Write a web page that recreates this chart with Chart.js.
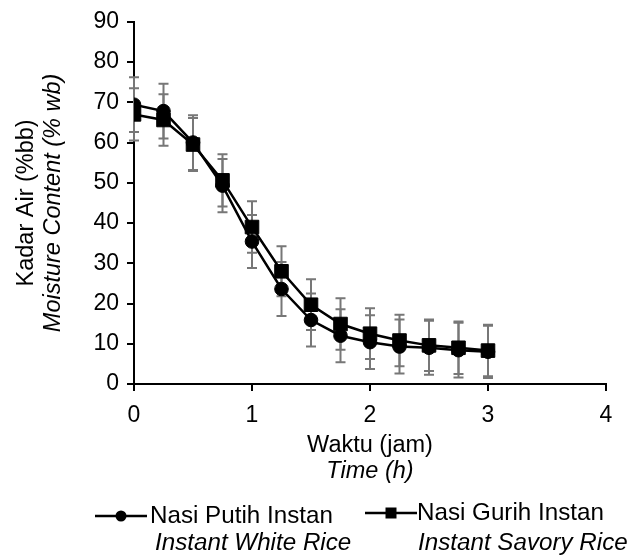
<!DOCTYPE html>
<html>
<head>
<meta charset="utf-8">
<script src="https://cdn.jsdelivr.net/npm/chart.js@4"></script>
<style>
  html, body { margin: 0; padding: 0; background: #fff; }
  #wrap { width: 637px; height: 555px; }
</style>
</head>
<body>
<div id="wrap"><canvas id="graph" width="637" height="555"></canvas></div>
<script>
let ctx = document.getElementById("graph").getContext('2d');

// time in hours
const waktu = [0, 0.25, 0.5, 0.75, 1, 1.25, 1.5, 1.75, 2, 2.25, 2.5, 2.75, 3];

// moisture content (% wb)
const nasiPutih = [69.4, 67.8, 60.0, 49.3, 35.4, 23.6, 15.9, 12.0, 10.4, 9.3, 9.0, 8.4, 8.0];
const nasiGurih = [67.0, 65.6, 59.5, 50.6, 39.0, 28.0, 19.7, 14.9, 12.5, 10.8, 9.6, 9.0, 8.3];

// standard deviation
const sdPutih = [6.8, 6.8, 6.8, 6.6, 6.6, 6.7, 6.6, 6.6, 6.7, 6.7, 6.7, 6.8, 6.5];
const sdGurih = [6.5, 6.4, 6.6, 6.5, 6.4, 6.2, 6.3, 6.4, 6.3, 6.4, 6.4, 6.5, 6.4];

const legendLabels = [
    ['Nasi Putih Instan', 'Instant White Rice'],
    ['Nasi Gurih Instan', 'Instant Savory Rice']
];
const yTitle = ['Kadar Air (%bb)', 'Moisture Content (% wb)'];
const xTitle = ['Waktu (jam)', 'Time (h)'];

const fontName = "'Liberation Sans', Arial, sans-serif";
const fontSize = 23;
const titleSize = 23.5;
const legendSize = 24.2;

Chart.defaults.color = '#000';
Chart.defaults.font.family = fontName;
Chart.defaults.font.size = fontSize;

const toPoints = (ys) => waktu.map((t, i) => ({x: t, y: ys[i]}));

// error bars, drawn behind the lines
const errorBars = {
    id: 'errorBars',
    beforeDatasetsDraw(chart) {
        const c = chart.ctx;
        const xs = chart.scales.x;
        const ys = chart.scales.y;
        const sets = [[nasiPutih, sdPutih], [nasiGurih, sdGurih]];
        c.save();
        c.strokeStyle = '#777';
        c.lineWidth = 2;
        sets.forEach(([vals, sd]) => {
            vals.forEach((v, i) => {
                const x = xs.getPixelForValue(waktu[i]);
                const top = ys.getPixelForValue(v + sd[i]);
                const bot = ys.getPixelForValue(v - sd[i]);
                c.beginPath();
                c.moveTo(x, top); c.lineTo(x, bot);
                c.moveTo(x - 5, top); c.lineTo(x + 5, top);
                c.moveTo(x - 5, bot); c.lineTo(x + 5, bot);
                c.stroke();
            });
        });
        c.restore();
    }
};

// axis titles and legend with two-line (normal + italic) text
const titlesAndLegend = {
    id: 'titlesAndLegend',
    afterDraw(chart) {
        const c = chart.ctx;
        const area = chart.chartArea;
        c.save();
        c.fillStyle = '#000';
        c.textBaseline = 'middle';

        // y title
        const cy = (area.top + area.bottom) / 2;
        c.save();
        c.translate(27, cy);
        c.rotate(-Math.PI / 2);
        c.textAlign = 'center';
        c.font = titleSize + 'px ' + fontName;
        c.fillText(yTitle[0], 0, 0);
        c.font = 'italic ' + titleSize + 'px ' + fontName;
        c.fillText(yTitle[1], 0, 26);
        c.restore();

        // x title
        const cx = (area.left + area.right) / 2;
        c.textAlign = 'center';
        c.font = titleSize + 'px ' + fontName;
        c.fillText(xTitle[0], cx, 446);
        c.font = 'italic ' + titleSize + 'px ' + fontName;
        c.fillText(xTitle[1], cx, 471);

        // legend
        const items = [
            {x0: 95, x1: 147, y: 516, mark: 'circle', tx: 150, ix: 155},
            {x0: 365, x1: 417, y: 513, mark: 'rect', tx: 417, ix: 418}
        ];
        items.forEach((it, k) => {
            c.strokeStyle = '#000';
            c.lineWidth = 2.5;
            c.beginPath();
            c.moveTo(it.x0, it.y); c.lineTo(it.x1, it.y);
            c.stroke();
            const mx = (it.x0 + it.x1) / 2;
            c.beginPath();
            if (it.mark === 'circle') c.arc(mx, it.y, 5.5, 0, Math.PI * 2);
            else c.rect(mx - 5.5, it.y - 5.5, 11, 11);
            c.fill();
            c.textAlign = 'left';
            c.font = legendSize + 'px ' + fontName;
            c.fillText(legendLabels[k][0], it.tx, it.y);
            c.font = 'italic ' + legendSize + 'px ' + fontName;
            c.fillText(legendLabels[k][1], it.ix, 543);
        });
        c.restore();
    }
};

new Chart(ctx, {
    type: 'scatter',
    data: {
        datasets: [{
            label: legendLabels[0][0],
            data: toPoints(nasiPutih),
            showLine: true,
            borderColor: '#000',
            backgroundColor: '#000',
            borderWidth: 2.5,
            pointStyle: 'circle',
            pointRadius: 6.8,
            pointBorderWidth: 1,
            order: 1
        }, {
            label: legendLabels[1][0],
            data: toPoints(nasiGurih),
            showLine: true,
            borderColor: '#000',
            backgroundColor: '#000',
            borderWidth: 2.5,
            pointStyle: 'rect',
            pointRadius: 9.6,
            pointBorderWidth: 1,
            order: 0
        }]
    },
    options: {
        responsive: false,
        animation: false,
        layout: { padding: { left: 0, right: 31, top: 10, bottom: 131 } },
        plugins: { legend: { display: false }, tooltip: { enabled: false } },
        scales: {
            x: {
                type: 'linear',
                position: 'bottom',
                min: 0, max: 4,
                ticks: { stepSize: 1, padding: 11, maxRotation: 0 },
                grid: { drawOnChartArea: false, drawTicks: true, tickLength: 7, color: '#000', lineWidth: 2 },
                border: { color: '#000', width: 2 },
                afterFit(scale) { scale.height = 40; }
            },
            y: {
                min: 0, max: 90,
                ticks: { stepSize: 10, padding: 8 },
                grid: { drawOnChartArea: false, drawTicks: true, tickLength: 7, color: '#000', lineWidth: 2 },
                border: { color: '#000', width: 2 },
                afterFit(scale) { scale.width = 134; }
            }
        }
    },
    plugins: [errorBars, titlesAndLegend]
});
</script>
</body>
</html>
